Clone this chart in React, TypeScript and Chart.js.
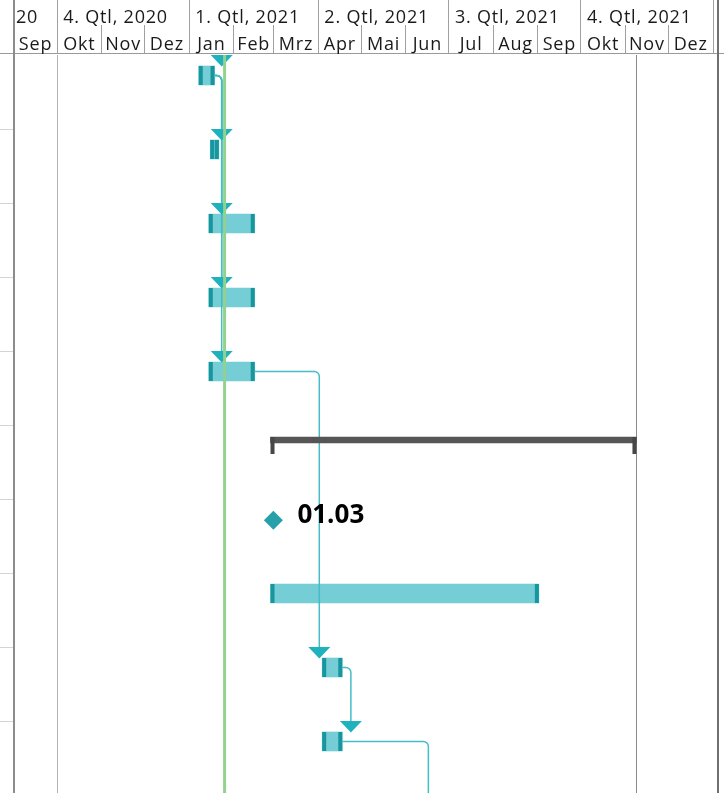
import React, { useEffect, useRef } from 'react';
import { Chart, registerables } from 'chart.js';

Chart.register(...registerables);

// ---------- data ----------
const ORIGIN = Date.UTC(2021, 0, 1);
const day = (s: string) => (Date.parse(s + 'T00:00:00Z') - ORIGIN) / 86400000;

// tasks (row index in the Gantt sheet, start, finish)
const taskRows = [0, 1, 2, 3, 4, 7, 8, 9, 10];
const taskStarts = ['2021-01-08', '2021-01-16', '2021-01-15', '2021-01-15', '2021-01-15', '2021-02-27', '2021-04-04', '2021-04-04', '2021-06-19'];
const taskEnds = ['2021-01-19', '2021-01-22', '2021-02-16', '2021-02-16', '2021-02-16', '2021-09-02', '2021-04-18', '2021-04-18', '2021-07-20'];

// summary task
const summaryRows = [5];
const summaryStarts = ['2021-02-27'];
const summaryEnds = ['2021-11-09'];

// milestone
const milestoneRows = [6];
const milestoneDates = ['2021-03-01'];
const milestoneLabels = ['01.03'];

// links (finish-to-start), -1 = predecessor outside the view
const linkFrom = [-1, 0, 0, 0, 0, 4, 6, 7];
const linkTo = [0, 1, 2, 3, 4, 6, 7, 8];
const linkDrop = ['2021-01-24', '2021-01-24', '2021-01-24', '2021-01-24', '2021-01-24', '2021-04-02', '2021-04-24', '2021-06-17'];

// status/current date line
const todayDate = '2021-01-26';
const projectStartDate = '2020-10-01';
const projectFinishDate = '2021-11-09';

// timescale
const viewStart = '2020-09-01';
const viewEnd = '2022-01-01';
const monthLabels = ['Sep', 'Okt', 'Nov', 'Dez', 'Jan', 'Feb', 'Mrz', 'Apr', 'Mai', 'Jun', 'Jul', 'Aug', 'Sep', 'Okt', 'Nov', 'Dez'];
const quarterLabels = ['20', '4. Qtl, 2020', '1. Qtl, 2021', '2. Qtl, 2021', '3. Qtl, 2021', '4. Qtl, 2021'];
const quarterStarts = ['2020-07-01', '2020-10-01', '2021-01-01', '2021-04-01', '2021-07-01', '2021-10-01'];

// ---------- layout constants ----------
const W = 724;
const H = 793;
const HEADER = 55;
const ROW_PX = 74;
const X_MIN = -131.5;
const X_MAX = 373;
const Y_MAX = (H - HEADER) / ROW_PX;
const BAR_POS = 0.277;
const SUM_POS = 0.203;
const MS_POS = 0.288;
const RIGHT_BORDER = 718;

const FILL = '#75cdd5';
const CAP = '#17969e';
const ARROW = '#1fb1bd';
const LINK = '#45bdc8';
const FONT = '"Open Sans", "Noto Sans", sans-serif';

const monthStartDays = monthLabels.map((_, i) => (Date.UTC(2020, 8 + i, 1) - ORIGIN) / 86400000);
monthStartDays.push(day(viewEnd));

const ganttPlugin = {
  id: 'gantt',
  beforeDatasetsDraw(chart: any) {
    const { ctx, scales } = chart;
    const x = scales.x;
    const y = scales.y;
    ctx.save();
    const leftX = Math.round(x.getPixelForValue(day(viewStart)));
    // row separators of the table pane at the left
    ctx.strokeStyle = '#d4d4d4';
    ctx.lineWidth = 1;
    for (let r = 1; r < 10; r++) {
      const py = Math.round(y.getPixelForValue(r)) + 0.5;
      ctx.beginPath();
      ctx.moveTo(0, py);
      ctx.lineTo(leftX - 1, py);
      ctx.stroke();
    }
    // project start / finish lines
    ctx.strokeStyle = '#b2b2b2';
    let px = Math.round(x.getPixelForValue(day(projectStartDate))) + 0.5;
    ctx.beginPath(); ctx.moveTo(px, HEADER); ctx.lineTo(px, H); ctx.stroke();
    ctx.strokeStyle = '#8a8a8a';
    px = Math.round(x.getPixelForValue(day(projectFinishDate))) + 0.5;
    ctx.beginPath(); ctx.moveTo(px, HEADER); ctx.lineTo(px, H); ctx.stroke();
    ctx.restore();
  },
  afterDatasetDraw(chart: any, args: any) {
    const { ctx, scales, chartArea: a } = chart;
    const x = scales.x;
    if (args.index === 0) {
      const meta = chart.getDatasetMeta(0);
      ctx.save();
      ctx.beginPath();
      ctx.rect(a.left, a.top, a.width, a.height);
      ctx.clip();
      // end caps
      ctx.fillStyle = CAP;
      meta.data.forEach((el: any) => {
        const l = Math.min(el.x, el.base);
        const r = Math.max(el.x, el.base);
        const h = el.height;
        ctx.fillRect(l, el.y - h / 2, 4, h);
        ctx.fillRect(r - 4, el.y - h / 2, 4, h);
      });
      // connectors
      ctx.strokeStyle = LINK;
      ctx.lineWidth = 1.5;
      linkFrom.forEach((f, k) => {
        const t = linkTo[k];
        const dx = x.getPixelForValue(day(linkDrop[k]));
        const tEl = meta.data[t];
        const top = tEl.y - tEl.height / 2;
        if (f >= 0) {
          const fEl = meta.data[f];
          const ex = Math.max(fEl.x, fEl.base);
          const rad = 5;
          ctx.beginPath();
          ctx.moveTo(ex, fEl.y);
          ctx.lineTo(dx - rad, fEl.y);
          ctx.arcTo(dx, fEl.y, dx, fEl.y + rad, rad);
          ctx.lineTo(dx, top - 10);
          ctx.stroke();
        }
      });
      ctx.fillStyle = ARROW;
      linkTo.forEach((t, k) => {
        const dx = x.getPixelForValue(day(linkDrop[k]));
        const tEl = meta.data[t];
        const top = tEl.y - tEl.height / 2;
        ctx.beginPath();
        ctx.moveTo(dx - 11, top - 11);
        ctx.lineTo(dx + 11, top - 11);
        ctx.lineTo(dx, top + 0.5);
        ctx.closePath();
        ctx.fill();
      });
      ctx.restore();
    }
    if (args.index === 1) {
      const meta = chart.getDatasetMeta(1);
      ctx.save();
      ctx.fillStyle = '#474747';
      meta.data.forEach((el: any) => {
        const l = Math.min(el.x, el.base);
        const r = Math.max(el.x, el.base);
        const top = el.y - el.height / 2;
        ctx.fillRect(l, top, 4, 17);
        ctx.fillRect(r - 4, top, 4, 17);
      });
      ctx.restore();
    }
    if (args.index === 2) {
      const meta = chart.getDatasetMeta(2);
      ctx.save();
      ctx.fillStyle = '#000';
      ctx.font = `bold 26px ${FONT}`;
      ctx.textBaseline = 'alphabetic';
      meta.data.forEach((el: any, i: number) => {
        ctx.fillText(milestoneLabels[i], el.x + 24, el.y + 3);
      });
      ctx.restore();
    }
  },
  afterDraw(chart: any) {
    const { ctx, scales } = chart;
    const x = scales.x;
    ctx.save();
    const leftX = Math.round(x.getPixelForValue(day(viewStart)));
    // header bottom line
    ctx.strokeStyle = '#9a9a9a';
    ctx.lineWidth = 1;
    ctx.beginPath(); ctx.moveTo(0, 53.5); ctx.lineTo(W, 53.5); ctx.stroke();
    // month separators and labels
    ctx.fillStyle = '#1a1a1a';
    ctx.font = `18px ${FONT}`;
    try { (ctx as any).letterSpacing = '0.8px'; } catch (e) { /* ignore */ }
    ctx.textAlign = 'center';
    ctx.textBaseline = 'alphabetic';
    for (let i = 0; i < monthLabels.length; i++) {
      const x0 = x.getPixelForValue(monthStartDays[i]);
      const x1 = x.getPixelForValue(monthStartDays[i + 1]);
      ctx.fillText(monthLabels[i], (x0 + x1) / 2 + 0.4, 50);
    }
    for (let i = 1; i < monthStartDays.length; i++) {
      const x0 = x.getPixelForValue(monthStartDays[i]);
      const m = (8 + i) % 12;
      const isQ = m % 3 === 0;
      const lx = Math.round(x0) + 0.5;
      ctx.strokeStyle = '#a0a0a0';
      ctx.beginPath();
      ctx.moveTo(lx, isQ ? 0 : 25);
      ctx.lineTo(lx, 53);
      ctx.stroke();
    }
    // quarter labels
    ctx.textAlign = 'left';
    quarterLabels.forEach((q, i) => {
      const qx = x.getPixelForValue(day(quarterStarts[i]));
      const tx = qx < leftX ? leftX + 2 : qx + 6.5;
      ctx.fillText(q, tx, 23);
    });
    // left border and right border
    ctx.strokeStyle = '#8c8c8c';
    ctx.lineWidth = 2;
    ctx.beginPath(); ctx.moveTo(leftX, 0); ctx.lineTo(leftX, H); ctx.stroke();
    ctx.strokeStyle = '#707070';
    ctx.beginPath(); ctx.moveTo(RIGHT_BORDER, 0); ctx.lineTo(RIGHT_BORDER, H); ctx.stroke();
    ctx.restore();
  },
};

export default function App() {
  const ref = useRef<HTMLCanvasElement>(null);
  useEffect(() => {
    document.body.style.margin = '0';
    const today = day(todayDate);
    const chart = new Chart(ref.current as HTMLCanvasElement, {
      type: 'bar',
      data: {
        datasets: [
          {
            type: 'bar',
            indexAxis: 'y',
            stack: 'g',
            order: 3,
            data: taskRows.map((r, i) => ({ x: [day(taskStarts[i]), day(taskEnds[i])], y: r + BAR_POS })),
            backgroundColor: FILL,
            borderWidth: 0,
            barThickness: 19,
          } as any,
          {
            type: 'bar',
            indexAxis: 'y',
            stack: 'g',
            order: 2,
            data: summaryRows.map((r, i) => ({ x: [day(summaryStarts[i]), day(summaryEnds[i])], y: r + SUM_POS })),
            backgroundColor: '#555555',
            borderWidth: 0,
            barThickness: 6,
          } as any,
          {
            type: 'scatter',
            order: 1,
            data: milestoneRows.map((r, i) => ({ x: day(milestoneDates[i]), y: r + MS_POS })),
            pointStyle: 'rectRot',
            pointRadius: 9.5,
            pointBackgroundColor: '#27a0a9',
            pointBorderWidth: 0,
            showLine: false,
          } as any,
          {
            type: 'line',
            order: 0,
            data: [{ x: today, y: 0 }, { x: today, y: Y_MAX }],
            borderColor: '#92d18e',
            borderWidth: 3,
            pointRadius: 0,
          } as any,
        ],
      },
      options: {
        responsive: false,
        maintainAspectRatio: false,
        animation: false,
        events: [],
        layout: { autoPadding: false, padding: { top: HEADER, left: 0, right: 0, bottom: 0 } },
        scales: {
          x: { type: 'linear', min: X_MIN, max: X_MAX, display: false, offset: false, grace: 0, grid: { offset: false } },
          y: { type: 'linear', min: 0, max: Y_MAX, reverse: true, display: false, offset: false, grace: 0, grid: { offset: false } },
        },
        plugins: { legend: { display: false }, tooltip: { enabled: false }, title: { display: false } },
      },
      plugins: [ganttPlugin],
    } as any);
    return () => chart.destroy();
  }, []);
  return (
    <div style={{ width: W, height: H, overflow: 'hidden', background: '#fff' }}>
      <canvas ref={ref} width={W} height={H} style={{ display: 'block' }} />
    </div>
  );
}
